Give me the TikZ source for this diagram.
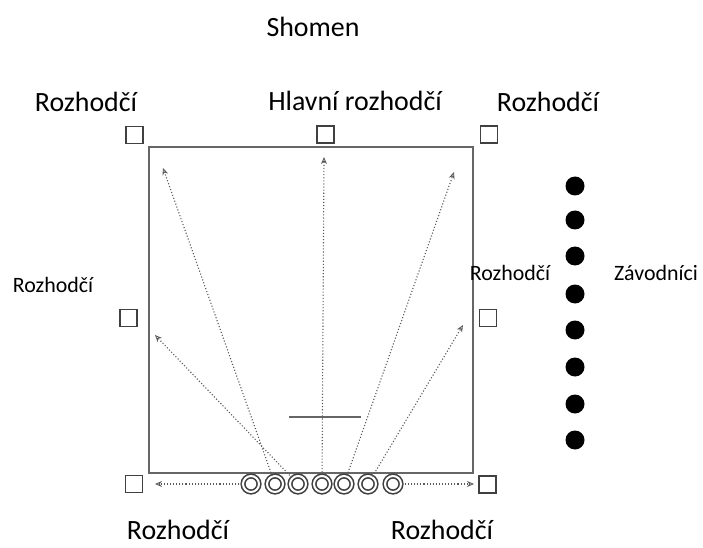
\documentclass[tikz,border=0pt]{standalone}
\usepackage{fontspec}
\setmainfont{Carlito}
\usetikzlibrary{arrows.meta}
\begin{document}
\begin{tikzpicture}[x=1bp,y=-1bp,
  judge/.style={draw=black!75, line width=1.1bp, minimum size=17bp, inner sep=0pt, fill=white},
  racer/.style={circle, fill=black, minimum size=19bp, inner sep=0pt},
  shooter/.style={circle, draw=black!75, double=white, double distance=2bp, line width=1.6bp, minimum size=16bp, inner sep=0pt},
  shot/.style={draw=black!65, dotted, line width=1.1bp, -{Stealth[open, length=7bp, width=6bp, line width=0.8bp]}},
  big/.style={font=\fontsize{28}{31}\selectfont, inner sep=0pt},
  small/.style={font=\fontsize{22}{25}\selectfont, inner sep=0pt}]
\useasboundingbox (0,0) rectangle (703,548);
% field
\draw[draw=black!60, line width=1.8bp] (149,147) rectangle (473,473);
% start line
\draw[draw=black!60, line width=1.6bp] (289,417) -- (361,417);
% judges
\node[judge] (jtl) at (134.5,135) {};
\node[judge] (jtm) at (325.5,134.5) {};
\node[judge] (jtr) at (489,134.5) {};
\node[judge] (jml) at (128.5,318) {};
\node[judge] (jmr) at (488,318) {};
\node[judge] (jbl) at (134,484) {};
\node[judge] (jbr) at (487.5,484.5) {};
% shooters
\foreach \i/\x in {1/251,2/275,3/298,4/322,5/344,6/368,7/393}
  \node[shooter] (s\i) at (\x,484) {};
% arrow targets
\coordinate (tl) at (163,168);
\coordinate (ml) at (155,335);
\coordinate (tm) at (324,157);
\coordinate (tr) at (454,172);
\coordinate (mr) at (463,325);
\coordinate (bl) at (155,484);
\coordinate (br) at (474,484);
\draw[shot] (s2) -- (tl);
\draw[shot] (s3) -- (ml);
\draw[shot] (s4) -- (tm);
\draw[shot] (s5) -- (tr);
\draw[shot] (s6) -- (mr);
\draw[shot] (s1) -- (bl);
\draw[shot] (s7) -- (br);
% racers
\foreach \i/\y in {1/186,2/220,3/256,4/294,5/330,6/367,7/404,8/440}
  \node[racer] (r\i) at (575,\y) {};
% labels
\node[big] (title) at (313,27) {Shomen};
\node[big] (ltl) at (86,102) {Rozhodčí};
\node[big] (ltm) at (355,101) {Hlavní rozhodčí};
\node[big] (ltr) at (548,102) {Rozhodčí};
\node[small] (lml) at (53,285) {Rozhodčí};
\node[small] (lmr) at (510,273) {Rozhodčí};
\node[small] (lrc) at (656,273) {Závodníci};
\node[big] (lbl) at (178,530) {Rozhodčí};
\node[big] (lbr) at (442,530) {Rozhodčí};
\end{tikzpicture}
\end{document}
